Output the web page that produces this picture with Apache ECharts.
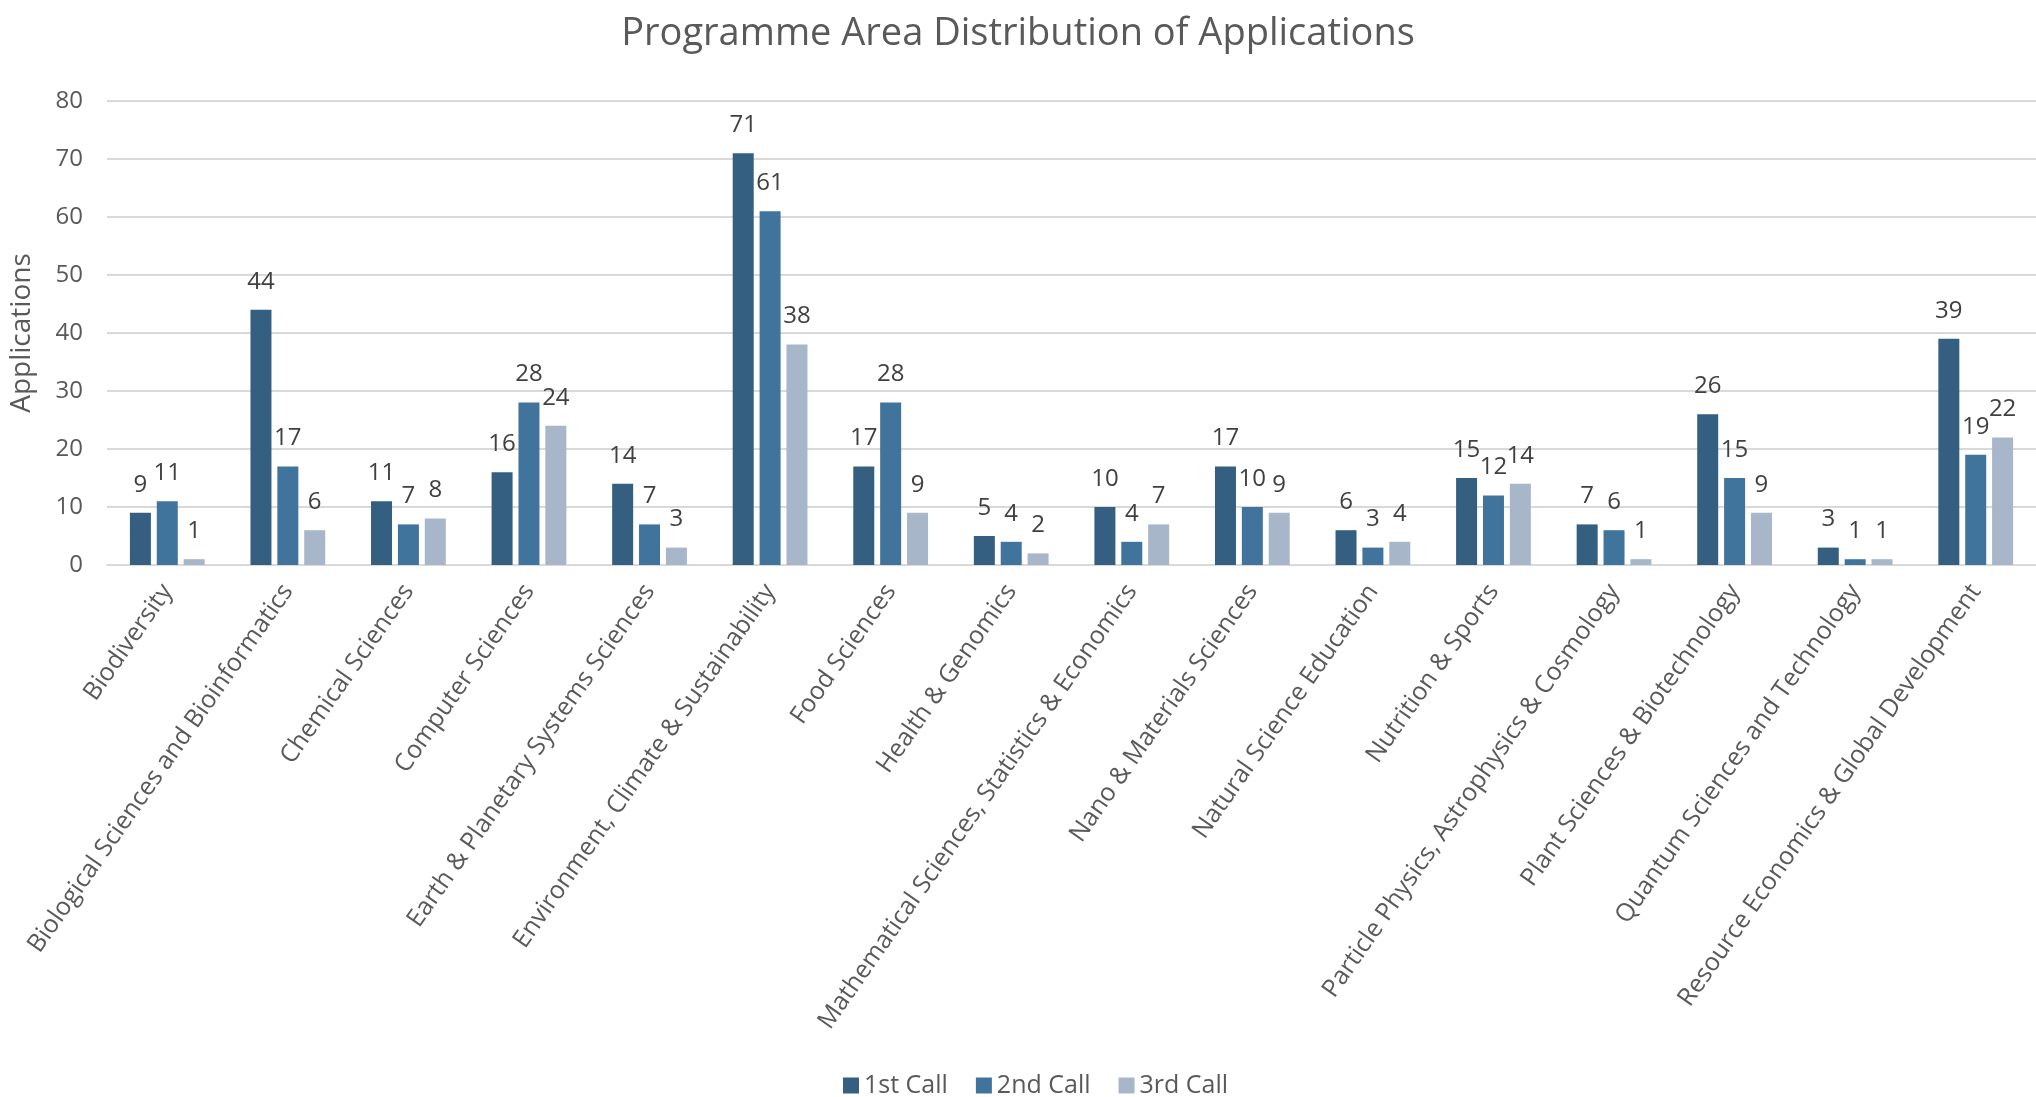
<!DOCTYPE html>
<html>
<head>
<meta charset="utf-8">
<script src="https://cdn.jsdelivr.net/npm/echarts@6/dist/echarts.min.js"></script>
<style>
  html, body { margin: 0; padding: 0; background: #fff; }
  #chart { width: 2036px; height: 1097px; }
</style>
</head>
<body>
<div id="chart"></div>
<script>
(function() {
  var categories = [
    "Biodiversity",
    "Biological Sciences and Bioinformatics",
    "Chemical Sciences",
    "Computer Sciences",
    "Earth & Planetary Systems Sciences",
    "Environment, Climate & Sustainability",
    "Food Sciences",
    "Health & Genomics",
    "Mathematical Sciences, Statistics & Economics",
    "Nano & Materials Sciences",
    "Natural Science Education",
    "Nutrition & Sports",
    "Particle Physics, Astrophysics & Cosmology",
    "Plant Sciences & Biotechnology",
    "Quantum Sciences and Technology",
    "Resource Economics & Global Development"
  ];
  var seriesNames = ["1st Call", "2nd Call", "3rd Call"];
  var call1 = [9, 44, 11, 16, 14, 71, 17, 5, 10, 17, 6, 15, 7, 26, 3, 39];
  var call2 = [11, 17, 7, 28, 7, 61, 28, 4, 4, 10, 3, 12, 6, 15, 1, 19];
  var call3 = [1, 6, 8, 24, 3, 38, 9, 2, 7, 9, 4, 14, 1, 9, 1, 22];

  var myChart = echarts.init(document.getElementById("chart"));
  var font = "'Open Sans', 'Noto Sans', sans-serif";
  var colors = ["#345f80", "#41749c", "#a7b6c8"]; // 三组颜色

  var makeBar = function(name, data) {
    return {
      name: name,
      type: "bar",
      barWidth: 21,
      barGap: "28%",
      data: data,
      label: {
        show: true,
        position: "top",
        distance: 16,
        color: "#404040",
        fontFamily: font,
        fontSize: 24
      }
    };
  };

  var option = {
    color: colors,
    animation: false,
    title: {
      text: "Programme Area Distribution of Applications",
      left: "center",
      top: 10,
      textStyle: {
        color: "#595959",
        fontFamily: font,
        fontWeight: "normal",
        fontSize: 38
      }
    },
    legend: {
      data: seriesNames,
      top: 1068,
      left: 838,
      itemWidth: 16,
      itemHeight: 16,
      itemGap: 28,
      icon: "rect",
      textStyle: { color: "#595959", fontFamily: font, fontSize: 25 }
    },
    grid: { left: 107, right: -9, top: 101, bottom: 532 },
    xAxis: {
      type: "category",
      data: categories,
      axisTick: { show: false },
      axisLine: { lineStyle: { color: "#d9d9d9", width: 2 } },
      axisLabel: {
        interval: 0,
        rotate: 55,
        margin: 22,
        color: "#595959",
        fontFamily: font,
        fontSize: 25
      }
    },
    yAxis: {
      type: "value",
      min: 0,
      max: 80,
      interval: 10,
      name: "Applications",
      nameLocation: "middle",
      nameGap: 71,
      nameTextStyle: { color: "#595959", fontFamily: font, fontSize: 28 },
      axisLine: { show: false },
      axisTick: { show: false },
      splitLine: { lineStyle: { color: "#d9d9d9", width: 2 } },
      axisLabel: {
        margin: 24,
        color: "#595959",
        fontFamily: font,
        fontSize: 24
      }
    },
    series: [
      makeBar(seriesNames[0], call1),
      makeBar(seriesNames[1], call2),
      makeBar(seriesNames[2], call3)
    ]
  };
  myChart.setOption(option);

  window.addEventListener("resize", function() {
    myChart.resize();
  });
})();
</script>
</body>
</html>
